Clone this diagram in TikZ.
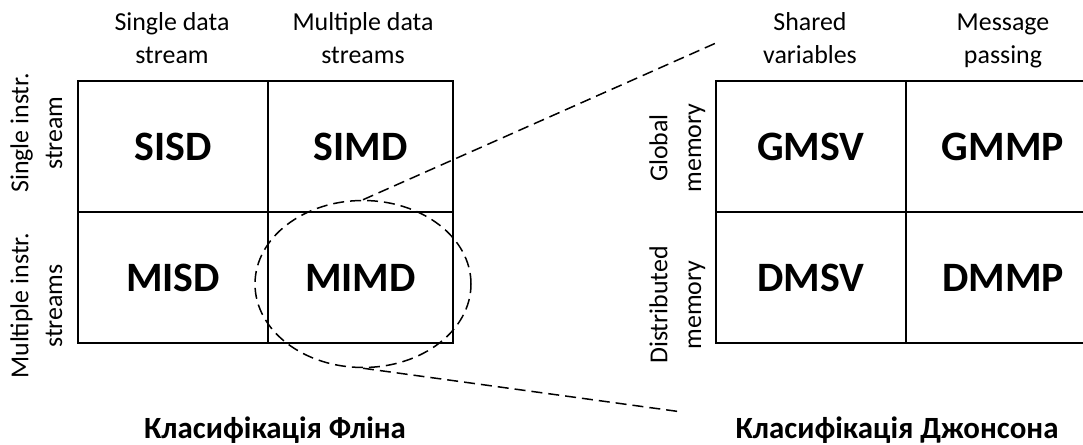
\documentclass[tikz,border=0pt]{standalone}
\usepackage{fontspec}
\setmainfont{Carlito}
\usetikzlibrary{shapes.geometric}
\begin{document}
\begin{tikzpicture}[x=1bp,y=-1bp,
  cell/.style={draw, line width=1.6bp, rectangle, inner sep=0pt, outer sep=0pt,
    font=\fontsize{42}{45}\selectfont\bfseries},
  head/.style={align=center, inner sep=0pt, font=\fontsize{26}{33}\selectfont},
  side/.style={align=center, inner sep=0pt, rotate=90, font=\fontsize{26}{34}\selectfont},
  title/.style={font=\fontsize{31}{34}\selectfont\bfseries},
  zoomline/.style={dash pattern=on 11bp off 6bp, line width=1.5bp}]
\useasboundingbox (0,0) rectangle (1083,445);

% Flynn's classification grid
\node[cell, minimum width=190bp, minimum height=131bp] (sisd) at (173,146.5) {SISD};
\node[cell, minimum width=185bp, minimum height=131bp] (simd) at (360.5,146.5) {SIMD};
\node[cell, minimum width=190bp, minimum height=131bp] (misd) at (173,277.5) {MISD};
\node[cell, minimum width=185bp, minimum height=131bp] (mimd) at (360.5,277.5) {MIMD};

\node[head] (hsd) at (172,40) {\strut Single data\\stream\strut};
\node[head] (hmd) at (363,40) {\strut Multiple data\\streams\strut};
\node[side] (vsi) at (38.5,133) {\strut Single instr.\\stream\strut};
\node[side] (vmi) at (38.5,306) {\strut Multiple instr.\\streams\strut};
\node[title] (tflynn) at (275,430) {Класифікація Фліна};

% Johnson's classification grid
\node[cell, minimum width=190bp, minimum height=131bp] (gmsv) at (811,146.5) {GMSV};
\node[cell, minimum width=194bp, minimum height=131bp] (gmmp) at (1003,146.5) {GMMP};
\node[cell, minimum width=190bp, minimum height=131bp] (dmsv) at (811,277.5) {DMSV};
\node[cell, minimum width=194bp, minimum height=131bp] (dmmp) at (1003,277.5) {DMMP};

\node[head] (hsv) at (810,40) {\strut Shared\\variables\strut};
\node[head] (hmp) at (1003,40) {\strut Message\\passing\strut};
\node[side] (vgm) at (677.5,148) {\strut Global\\memory\strut};
\node[side] (vdm) at (677.5,305) {\strut Distributed\\memory\strut};
\node[title] (tjohnson) at (897,430) {Класифікація Джонсона};

% MIMD highlighted and expanded to the right
\node[ellipse, draw, zoomline, minimum width=216bp, minimum height=167bp, inner sep=0pt]
  (ring) at (363,284) {};
\coordinate (uptip) at (716,43);
\coordinate (lowtip) at (682,412);
\draw[zoomline] (ring.north) -- (uptip);
\draw[zoomline] (ring.south) -- (lowtip);
\end{tikzpicture}
\end{document}
